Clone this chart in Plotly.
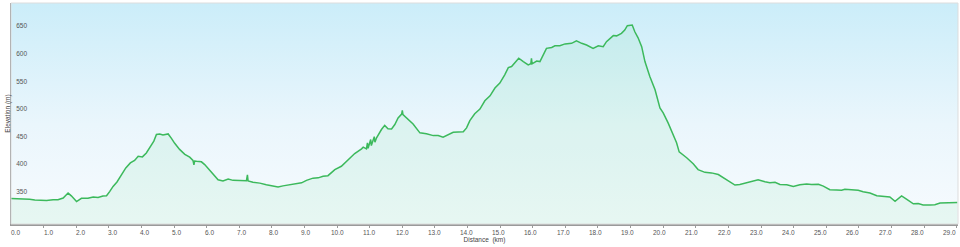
import plotly.graph_objects as go

distance_km = [
    0.00, 0.37, 0.57, 0.73, 1.09, 1.29, 1.44, 1.60, 1.75, 1.85, 2.01, 2.16, 2.36, 2.52, 2.67,
    2.82, 2.93, 3.03, 3.13, 3.25, 3.39, 3.52, 3.66, 3.79, 3.90, 4.03, 4.15, 4.31, 4.38, 4.46,
    4.56, 4.66, 4.82, 4.92, 5.02, 5.17, 5.33, 5.48, 5.58, 5.61, 5.63, 5.69, 5.84, 5.94, 6.10,
    6.25, 6.35, 6.50, 6.66, 6.81, 7.02, 7.22, 7.25, 7.27, 7.42, 7.63, 7.83, 8.04, 8.19, 8.34,
    8.55, 8.75, 8.91, 9.06, 9.26, 9.42, 9.57, 9.72, 9.93, 10.13, 10.34, 10.54, 10.75, 10.80,
    10.90, 10.93, 10.95, 11.03, 11.05, 11.06, 11.14, 11.16, 11.21, 11.36, 11.46, 11.56, 11.67,
    11.77, 11.87, 11.98, 12.00, 12.02, 12.13, 12.33, 12.54, 12.74, 12.95, 13.10, 13.25, 13.40,
    13.56, 13.71, 13.87, 13.97, 14.07, 14.22, 14.38, 14.53, 14.69, 14.84, 14.99, 15.14, 15.25,
    15.35, 15.45, 15.57, 15.71, 15.86, 15.94, 15.96, 15.98, 16.01, 16.12, 16.22, 16.32, 16.42,
    16.58, 16.68, 16.83, 16.99, 17.19, 17.34, 17.50, 17.65, 17.85, 18.01, 18.16, 18.26, 18.47,
    18.57, 18.72, 18.82, 18.90, 19.05, 19.13, 19.23, 19.34, 19.44, 19.59, 19.75, 19.90, 20.00,
    20.15, 20.31, 20.41, 20.49, 20.72, 20.92, 21.07, 21.28, 21.48, 21.69, 21.89, 22.05, 22.20,
    22.35, 22.56, 22.76, 22.91, 23.12, 23.27, 23.43, 23.58, 23.79, 23.99, 24.19, 24.40, 24.55,
    24.76, 24.91, 25.11, 25.32, 25.47, 25.57, 25.83, 25.98, 26.13, 26.34, 26.55, 26.75, 26.95,
    27.11, 27.31, 27.46, 27.67, 27.82, 27.97, 28.18, 28.33, 28.49, 28.69, 28.90, 29.02,
]
elevation_m = [
    346, 346, 345, 343.5, 342.5, 344, 344, 347, 356, 351, 340.5, 346.5, 346.5, 349, 348,
    350.5, 351, 359, 368, 376, 389.5, 401.5, 410.5, 415, 422.5, 421.5, 428.5, 442, 450, 462,
    463, 461, 463, 455, 446, 435, 426, 421, 415, 407, 414, 413.5, 412.5, 407.5, 397,
    386.5, 380, 378, 381.5, 379, 379, 378.5, 389, 378, 375.5, 374, 371, 368, 367, 369,
    371, 372, 374.5, 379, 383, 383.5, 386.5, 387.5, 398.5, 404.5, 416.5, 427.5, 436, 439,
    436, 447, 437, 453, 442, 443.5, 458, 448, 456, 471, 478.5, 472.5, 472,
    480, 492, 499, 505.5, 498, 492, 481, 465, 463.5, 460, 460, 457, 461,
    466, 466.5, 467, 474, 487, 499.5, 508, 523, 532, 546, 555, 570, 583,
    585, 592, 600, 594, 588, 590, 600, 590, 591, 595, 594, 606, 618,
    619.5, 622.5, 622.5, 626, 627, 631.5, 627, 624, 618, 622.5, 621, 630, 641,
    640.5, 645, 651, 659, 660, 648, 637, 621, 594, 567, 543, 510, 501,
    483, 459, 447, 430.5, 420, 409, 398.5, 393.5, 392.5, 389.5, 382.5, 375.5, 370.5,
    371.5, 374.5, 377.5, 380, 376.5, 374.5, 375.5, 371.5, 371, 368, 371, 372.5, 371.5,
    372, 368.5, 362, 361.5, 361, 363, 362.5, 361, 358.5, 356, 351, 349.5, 349,
    341, 351, 345, 336.5, 337, 334.5, 334.5, 335, 338, 338.5, 340, 339,
]

x_ticks = list(range(0, 30))
x_tick_labels = [f"{v:.1f}" for v in x_ticks]
y_ticks = [350, 400, 450, 500, 550, 600, 650]
y_range = [300, 700]
x_range = [0, 29.04]

FONT = "Liberation Sans, Arial, sans-serif"
PX_PER_KM = 32.6  # approx. plot width / x span, used only to nudge label placement

fig = go.Figure()

# background sky gradient across the plot area
fig.add_trace(go.Scatter(
    x=[x_range[0], x_range[1]], y=[y_range[1], y_range[1]],
    mode="none", fill="tozeroy", hoverinfo="skip", showlegend=False,
    fillgradient=dict(type="vertical", start=y_range[0], stop=y_range[1],
                      colorscale=[[0, "#f7fbfe"], [0.45, "#eaf6fc"], [1, "#cbedf9"]]),
))

fig.add_trace(go.Scatter(
    x=distance_km, y=elevation_m, mode="lines",
    line=dict(color="#3cb95c", width=1.5),
    fill="tozeroy", fillcolor="rgba(90,215,140,0.10)",
    showlegend=False,
))

# x tick labels as annotations (slightly compressed like the reference so the end labels fit)
annotations = []
for v, lab in zip(x_ticks, x_tick_labels):
    shift_px = 4.9 - 0.42 * v
    annotations.append(dict(
        x=v, xref="x", y=0, yref="paper", text=lab, showarrow=False,
        xanchor="center", yanchor="top", xshift=shift_px, yshift=-3,
        font=dict(family=FONT, size=6.5, color="#555"),
    ))

fig.update_layout(
    width=960, height=247,
    margin=dict(l=11, r=2, t=3, b=23),
    paper_bgcolor="white", plot_bgcolor="white",
    font=dict(family=FONT, size=6.5, color="#555"),
    xaxis=dict(
        range=x_range, tickmode="array", tickvals=x_ticks,
        showticklabels=False,
        showgrid=False, zeroline=False,
        showline=True, linecolor="#9a9a9a", linewidth=2,
        ticks="outside", ticklen=2, tickcolor="#9a9a9a", tickwidth=1,
        title=dict(text="Distance  (km)", font=dict(size=6.5, color="#444"), standoff=10),
        automargin=False,
    ),
    yaxis=dict(
        range=y_range, tickmode="array", tickvals=y_ticks,
        ticklabelposition="inside top", ticklabelstandoff=3,
        showgrid=True, gridcolor="#cfd8dd", gridwidth=1.5,
        zeroline=False, showline=True, linecolor="#8a8a8a", linewidth=1,
        ticks="", tickfont=dict(size=6.5, color="#555"),
        title=dict(text="Elevation (m)", font=dict(size=6.5, color="#444"), standoff=4),
        automargin=False,
    ),
    annotations=annotations,
    shapes=[dict(type="rect", xref="paper", yref="paper", x0=0, x1=1, y0=0, y1=1,
                 line=dict(color="#dddddd", width=1), layer="above")],
)

fig.write_html("out.html")
